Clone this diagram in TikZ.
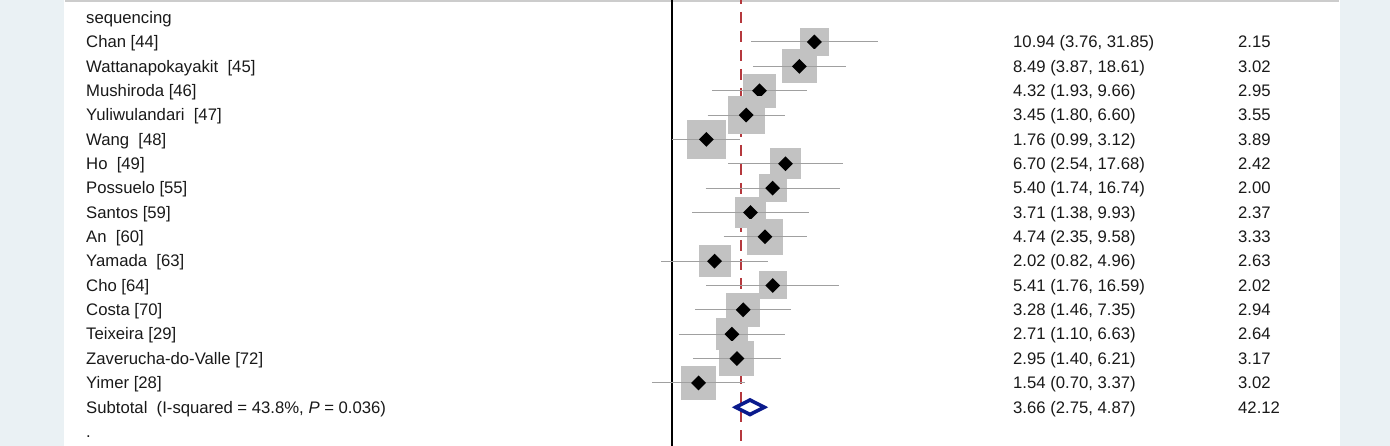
\documentclass[tikz,border=0pt]{standalone}
\usepackage{fontspec}
\setmainfont{Liberation Sans}
\usetikzlibrary{shapes.geometric,positioning}
\usepackage{xcolor}
\definecolor{panel}{HTML}{EAF1F4}
\definecolor{boxgray}{HTML}{C2C2C2}
\definecolor{cigray}{HTML}{A0A0A0}
\definecolor{dashred}{HTML}{B5383D}
\definecolor{pooledblue}{HTML}{0A1A8C}

\begin{document}
\begin{tikzpicture}[x=1pt,y=-1pt,%
		   label/.style={anchor=base west,inner sep=0pt,text=black!90,font=\fontsize{16.7}{20}\selectfont},
		   weightbox/.style={fill=boxgray,inner sep=0pt,minimum size=#1},
		   estimate/.style={diamond,fill=black,inner sep=0pt,minimum size=15pt},
		   ci/.style={draw=cigray,line width=1pt},
		   pooled/.style={diamond,draw=pooledblue,line width=3.6pt,inner sep=0pt,minimum width=30pt,minimum height=16pt},
		   nullline/.style={line width=2.8pt},
		   overall/.style={draw=dashred,line width=2.9pt,dash pattern=on 11pt off 8pt,dash phase=7pt}]

	\useasboundingbox (0,0) rectangle (1390,446);
	% panels and frame
	\fill[panel] (0,0) rectangle (64,446);
	\fill[panel] (1340,0) rectangle (1390,446);
	\draw[black!20,line width=2pt] (65,1) -- (1339,1);

	% reference lines: no effect and overall effect
	\coordinate (null-top) at (672,0);
	\coordinate (null-bot) at (672,446);
	\coordinate (all-top) at (741,0);
	\coordinate (all-bot) at (741,446);
	\draw[overall] (all-top) -- (all-bot);
	\draw[nullline] (null-top) -- (null-bot);

	\node[label] (head) at (86,23.45) {sequencing};

	\foreach \name/\es/\lo/\hi/\w [count=\i] in {%
		Chan [44]/10.94/3.76/31.85/2.15,%
		Wattanapokayakit\ \ [45]/8.49/3.87/18.61/3.02,%
		Mushiroda [46]/4.32/1.93/9.66/2.95,%
		Yuliwulandari\ \ [47]/3.45/1.80/6.60/3.55,%
		Wang\ \ [48]/1.76/0.99/3.12/3.89,%
		Ho\ \ [49]/6.70/2.54/17.68/2.42,%
		Possuelo [55]/5.40/1.74/16.74/2.00,%
		Santos [59]/3.71/1.38/9.93/2.37,%
		An\ \ [60]/4.74/2.35/9.58/3.33,%
		Yamada\ \ [63]/2.02/0.82/4.96/2.63,%
		Cho [64]/5.41/1.76/16.59/2.02,%
		Costa [70]/3.28/1.46/7.35/2.94,%
		Teixeira [29]/2.71/1.10/6.63/2.64,%
		Zaverucha-do-Valle [72]/2.95/1.40/6.21/3.17,%
		Yimer [28]/1.54/0.70/3.37/3.02%
	       } { \pgfmathsetmacro{\yy}{17.65+24.35*\i}
		   \pgfmathsetmacro{\xes}{673+59.1*ln(\es)}
		   \pgfmathsetmacro{\xlo}{673+59.1*ln(\lo)}
		   \pgfmathsetmacro{\xhi}{673+59.1*ln(\hi)}
		   \pgfmathsetmacro{\bs}{19.7*sqrt(\w)}
		   \node[label] (s-\i) at (86,\yy+5.8) {\name};
		   \node[weightbox=\bs pt] (b-\i) at (\xes,\yy) {};
		   \coordinate (lo-\i) at (\xlo,\yy);
		   \coordinate (hi-\i) at (\xhi,\yy);
		   \draw[ci] (lo-\i) -- (hi-\i);
		   \node[estimate] (d-\i) at (b-\i) {};
		   \node[label] (e-\i) at (1013,\yy+5.8) {\es\ (\lo, \hi)};
		   \node[label] (w-\i) at (1238,\yy+5.8) {\w};
	       }

	% pooled estimate
	\node[label] (sub) at (86,413.05) {Subtotal\ \ (I-squared = 43.8\%, \textit{P} = 0.036)};
	\node[pooled] (sub-d) at (750,407.25) {};
	\node[label] (sub-e) at (1013,413.05) {3.66 (2.75, 4.87)};
	\node[label] (sub-w) at (1238,413.05) {42.12};
	\node[label] (dot) at (86,437.4) {.};
\end{tikzpicture}
\end{document}
